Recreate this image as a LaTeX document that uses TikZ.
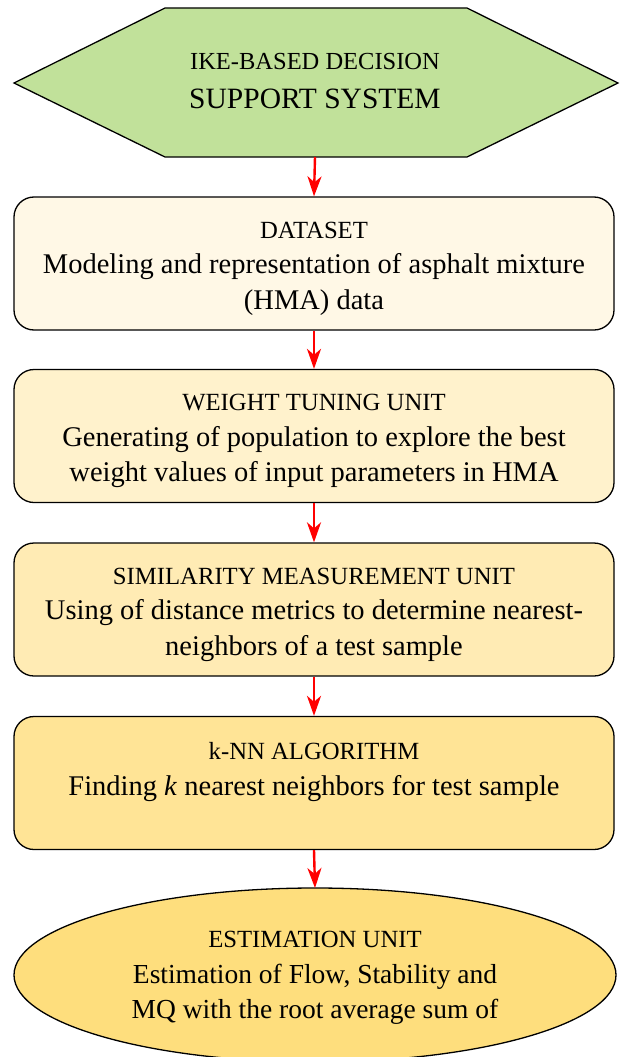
\documentclass[tikz,border=0pt]{standalone}
\usepackage{fontspec}
\setmainfont{Liberation Serif}
\usetikzlibrary{arrows.meta,shapes.geometric}
\definecolor{hexfill}{RGB}{193,225,154}
\definecolor{fillA}{RGB}{255,248,230}
\definecolor{fillB}{RGB}{255,242,204}
\definecolor{fillC}{RGB}{255,235,180}
\definecolor{fillD}{RGB}{255,228,150}
\definecolor{fillE}{RGB}{254,222,125}
\newcommand{\headfont}{\fontsize{24.7}{35}\selectfont}
\tikzset{
  unitbox/.style={draw=black, line width=1.3pt, rounded corners=20pt,
    minimum width=600pt, minimum height=133pt, inner sep=0pt},
  boxtext/.style={align=center, inner sep=0pt,
    font=\fontsize{28.5}{35.5}\selectfont},
  flow/.style={draw=red, line width=2.4pt,
    -{Stealth[length=20pt,width=14pt,inset=6pt]}},
}
\begin{document}
\begin{tikzpicture}[x=1pt,y=-1pt]
  \useasboundingbox (0,0) rectangle (622,1057);
  % top hexagon
  \draw[fill=hexfill, line width=1.3pt]
    (165,8) -- (467,8) -- (618,83) -- (467,157) -- (165,157) -- (14,83) -- cycle;
  \node[align=center, font=\fontsize{24.5}{39}\selectfont] (top) at (315,81)
    {IKE-BASED DECISION\\{\fontsize{29.5}{39}\selectfont SUPPORT SYSTEM}};
  \coordinate (topout) at (315,157);
  % processing units
  \node[unitbox, fill=fillA] (data) at (314,263.5) {};
  \node[boxtext] (datatext) at ([yshift=-5pt]data.center)
    {\headfont DATASET\\Modeling and representation of asphalt mixture\\(HMA) data};
  \node[unitbox, fill=fillB] (weight) at (314,436) {};
  \node[boxtext] (weighttext) at ([yshift=-5pt]weight.center)
    {\headfont WEIGHT TUNING UNIT\\Generating of population to explore the best\\weight values of input parameters in HMA};
  \node[unitbox, fill=fillC] (sim) at (314,609.5) {};
  \node[boxtext] (simtext) at ([yshift=-5pt]sim.center)
    {\headfont SIMILARITY MEASUREMENT UNIT\\Using of distance metrics to determine nearest-\\neighbors of a test sample};
  \node[unitbox, fill=fillD] (knn) at (314,783) {};
  \node[boxtext] (knntext) at ([yshift=11pt]knn.center)
    {\headfont k-NN ALGORITHM\\Finding \textit{k} nearest neighbors for test sample};
  % estimation ellipse
  \draw[fill=fillE, line width=1.3pt] (315,975) ellipse [x radius=301, y radius=87];
  \coordinate (est) at (315,888);
  \node[align=center, font=\fontsize{27.5}{35.5}\selectfont] (esttext) at (315,978)
    {{\headfont ESTIMATION UNIT}\\Estimation of Flow, Stability and\\MQ with the root average sum of};
  % connectors
  \draw[flow] (topout) -- (data.north);
  \draw[flow] (data.south) -- (weight.north);
  \draw[flow] (weight.south) -- (sim.north);
  \draw[flow] (sim.south) -- (knn.north);
  \draw[flow] (knn.south) -- (est);
\end{tikzpicture}
\end{document}
